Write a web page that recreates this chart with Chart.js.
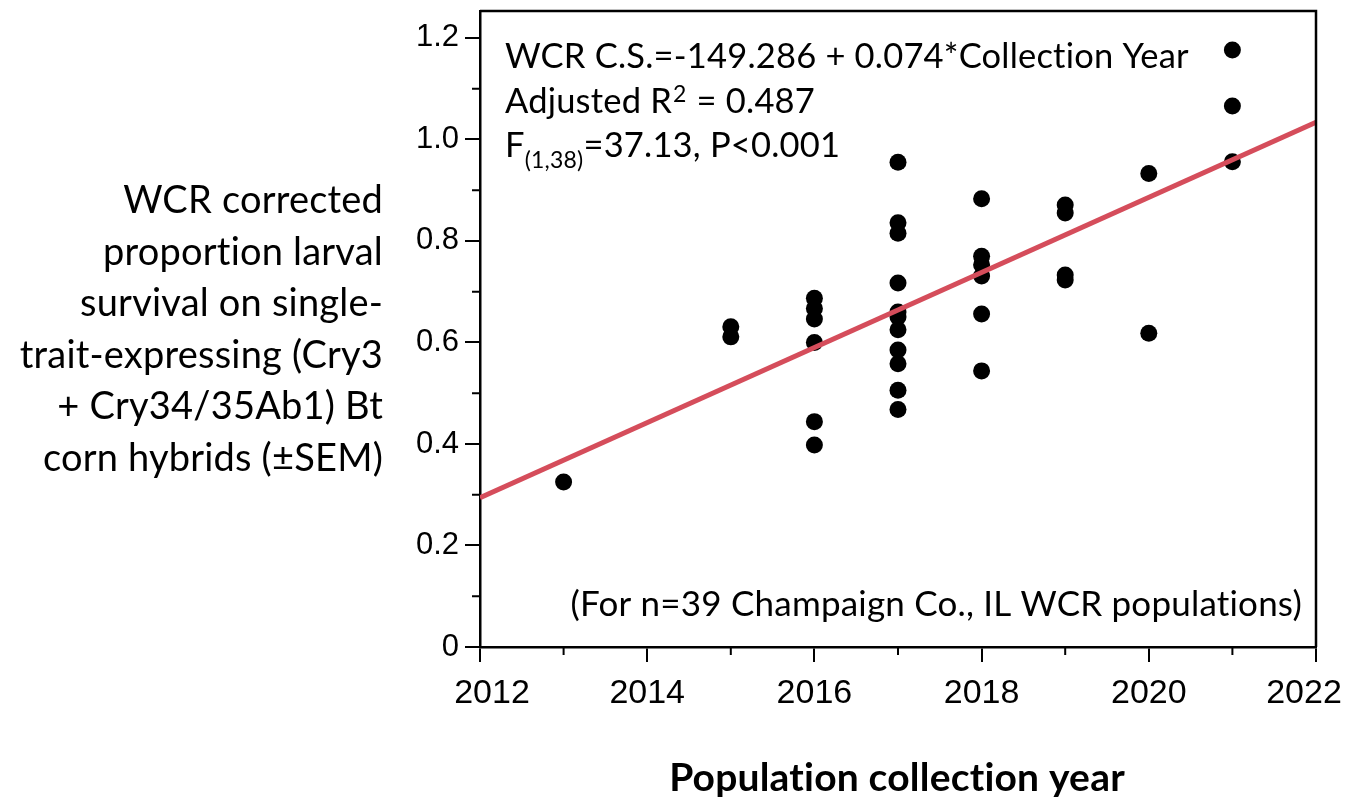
<!DOCTYPE html>
<html>
<head>
<meta charset="utf-8">
<script src="https://cdn.jsdelivr.net/npm/chart.js@4/dist/chart.umd.min.js"></script>
<style>
  html, body { margin: 0; padding: 0; background: #ffffff; }
  canvas { display: block; }
</style>
</head>
<body>
<canvas id="chart" width="1345" height="799"></canvas>
<script>
// Collection year of each WCR population and its corrected proportion larval survival
const collectionYear = [
  2013,
  2015, 2015,
  2016, 2016, 2016, 2016, 2016, 2016,
  2017, 2017, 2017, 2017, 2017, 2017, 2017, 2017, 2017, 2017, 2017,
  2018, 2018, 2018, 2018, 2018, 2018,
  2019, 2019, 2019, 2019,
  2020, 2020,
  2021, 2021, 2021
];
const survival = [
  0.325,
  0.631, 0.611,
  0.687, 0.667, 0.646, 0.600, 0.444, 0.398,
  0.955, 0.836, 0.815, 0.717, 0.660, 0.650, 0.625, 0.585, 0.558, 0.506, 0.468,
  0.883, 0.770, 0.753, 0.731, 0.656, 0.544,
  0.871, 0.855, 0.733, 0.723,
  0.933, 0.618,
  1.176, 1.066, 0.956
];

// Fitted regression line across the x range
const fitYears = [2012, 2022];
const fitValues = [0.294, 1.034];

// Axis ticks
const xMajorTicks = [2012, 2014, 2016, 2018, 2020, 2022];
const xMinorTicks = [2013, 2015, 2017, 2019, 2021];
const yMajorTicks = [0, 0.2, 0.4, 0.6, 0.8, 1.0, 1.2];
const yMinorTicks = [0.1, 0.3, 0.5, 0.7, 0.9, 1.1];

// Text
const yTitleLines = [
  'WCR corrected',
  'proportion larval',
  'survival on single-',
  'trait-expressing (Cry3',
  '+ Cry34/35Ab1) Bt',
  'corn hybrids (\u00B1SEM)'
];
const xTitle = 'Population collection year';
const equationText = 'WCR C.S.=-149.286 + 0.074*Collection Year';
const r2Text = ['Adjusted R', '2', ' = 0.487'];
const fText = ['F', '(1,38)', '=37.13, P<0.001'];
const sampleNote = '(For n=39 Champaign Co., IL WCR populations)';

const points = collectionYear.map((yr, i) => ({ x: yr, y: survival[i] }));
const fitLine = fitYears.map((yr, i) => ({ x: yr, y: fitValues[i] }));

const TICK_FAMILY = '"Liberation Sans", Arial, sans-serif';
const TEXT_FAMILY = 'Lato, "Open Sans", sans-serif';

// Frame, minor ticks, year labels and text drawn on top of the chart
const decorations = {
  id: 'decorations',
  afterDraw(chart) {
    const { ctx, chartArea: a, scales } = chart;
    const xs = scales.x, ys = scales.y;
    ctx.save();
    ctx.strokeStyle = '#000';
    ctx.lineWidth = 2.5;
    // top and right edges of the frame
    ctx.beginPath();
    ctx.moveTo(a.left, a.top);
    ctx.lineTo(a.right, a.top);
    ctx.lineTo(a.right, a.bottom);
    ctx.stroke();
    // minor ticks
    ctx.lineWidth = 2;
    ctx.beginPath();
    xMinorTicks.forEach(v => {
      const px = xs.getPixelForValue(v);
      ctx.moveTo(px, a.bottom);
      ctx.lineTo(px, a.bottom + 8);
    });
    yMinorTicks.forEach(v => {
      const py = ys.getPixelForValue(v);
      ctx.moveTo(a.left, py);
      ctx.lineTo(a.left - 8, py);
    });
    ctx.stroke();

    ctx.fillStyle = '#000';
    ctx.textBaseline = 'alphabetic';

    // year labels; the two end labels are nudged inward to stay on the canvas
    ctx.font = '34px ' + TICK_FAMILY;
    ctx.textAlign = 'center';
    xMajorTicks.forEach((v, i) => {
      let px = xs.getPixelForValue(v);
      if (i === 0) px += 12;
      if (i === xMajorTicks.length - 1) px -= 12;
      ctx.fillText(String(v), px, a.bottom + 56);
    });

    ctx.letterSpacing = '0.2px';

    // regression statistics
    const statFont = '34.5px ' + TEXT_FAMILY;
    const subFont = '23px ' + TEXT_FAMILY;
    const sx = a.left + 25;
    ctx.textAlign = 'left';
    ctx.font = statFont;
    ctx.fillText(equationText, sx, 68);
    let cx = sx;
    ctx.fillText(r2Text[0], cx, 113);
    cx += ctx.measureText(r2Text[0]).width;
    ctx.font = subFont;
    ctx.fillText(r2Text[1], cx + 1, 102);
    cx += ctx.measureText(r2Text[1]).width + 2;
    ctx.font = statFont;
    ctx.fillText(r2Text[2], cx, 113);
    cx = sx;
    ctx.fillText(fText[0], cx, 157);
    cx += ctx.measureText(fText[0]).width;
    ctx.font = subFont;
    ctx.fillText(fText[1], cx, 168);
    cx += ctx.measureText(fText[1]).width;
    ctx.font = statFont;
    ctx.fillText(fText[2], cx, 157);

    // sample size note
    ctx.textAlign = 'right';
    ctx.font = '35px ' + TEXT_FAMILY;
    ctx.fillText(sampleNote, a.right - 14, 616);

    // y-axis title, right aligned
    ctx.font = '38px ' + TEXT_FAMILY;
    yTitleLines.forEach((line, i) => {
      ctx.fillText(line, 383, 213 + i * 51.5);
    });

    // x-axis title
    ctx.textAlign = 'center';
    ctx.font = 'bold 39px ' + TEXT_FAMILY;
    ctx.fillText(xTitle, 897, 791);
    ctx.restore();
  }
};

new Chart(document.getElementById('chart'), {
  type: 'scatter',
  data: {
    datasets: [
      {
        type: 'line',
        data: fitLine,
        borderColor: '#d54d5b',
        borderWidth: 5,
        pointRadius: 0,
        fill: false,
        order: 0
      },
      {
        data: points,
        backgroundColor: '#000',
        borderWidth: 0,
        pointRadius: 8.5,
        pointHoverRadius: 8.5,
        order: 1
      }
    ]
  },
  options: {
    responsive: false,
    devicePixelRatio: 1,
    animation: false,
    layout: { padding: { top: 11, right: 29, left: 0, bottom: 0 } },
    plugins: { legend: { display: false }, tooltip: { enabled: false } },
    scales: {
      x: {
        type: 'linear',
        min: 2012,
        max: 2022,
        afterBuildTicks: s => { s.ticks = xMajorTicks.map(v => ({ value: v })); },
        afterFit: s => { s.height = 152; s.paddingLeft = 0; s.paddingRight = 0; },
        grid: { display: true, drawOnChartArea: false, drawTicks: true, tickLength: 15, lineWidth: 2, color: '#000' },
        border: { display: true, width: 2.5, color: '#000' },
        ticks: { display: false }
      },
      y: {
        type: 'linear',
        min: 0,
        max: 1.253,
        afterBuildTicks: s => { s.ticks = yMajorTicks.map(v => ({ value: v })); },
        afterFit: s => { s.width = 480; s.paddingTop = 0; s.paddingBottom = 0; },
        grid: { display: true, drawOnChartArea: false, drawTicks: true, tickLength: 15, lineWidth: 2, color: '#000' },
        border: { display: true, width: 2.5, color: '#000' },
        ticks: { font: { family: TICK_FAMILY, size: 31 }, color: '#000', padding: 6, callback: v => (v === 0 ? '0' : v.toFixed(1)) }
      }
    }
  },
  plugins: [decorations]
});
</script>
</body>
</html>
